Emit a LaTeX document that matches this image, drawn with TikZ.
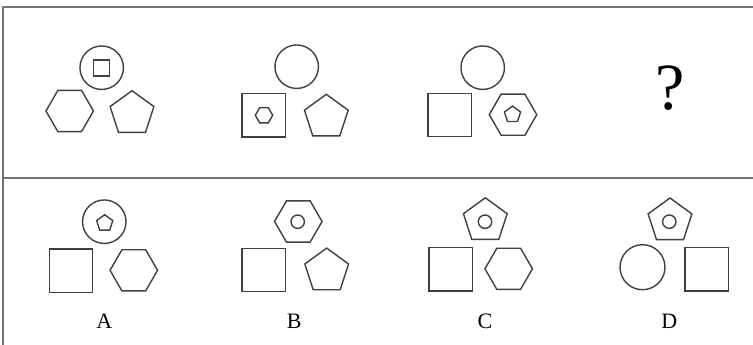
\documentclass[tikz,border=0pt]{standalone}
\usepackage{fontspec}
\setmainfont{Liberation Serif}
\usetikzlibrary{shapes.geometric}
\begin{document}
\begin{tikzpicture}[x=1pt,y=-1pt,
  shp/.style={draw=black!75, line width=1.4pt, inner sep=0pt, fill=none},
  circ/.style={shp, circle, minimum size=43.5pt},
  sq/.style={shp, rectangle, minimum size=43.3pt},
  hexa/.style={shp, regular polygon, regular polygon sides=6, minimum size=47.5pt},
  penta/.style={shp, regular polygon, regular polygon sides=5, minimum size=46pt},
  tinysq/.style={shp, rectangle, minimum size=16pt},
  tinyhexa/.style={shp, regular polygon, regular polygon sides=6, minimum size=17.4pt},
  tinypenta/.style={shp, regular polygon, regular polygon sides=5, minimum size=17pt},
  tinycirc/.style={shp, circle, minimum size=13.4pt},
  lbl/.style={anchor=base, inner sep=0pt, font=\fontsize{22}{24}\selectfont},
  frame/.style={draw=black!55, line width=1.5pt}]
\useasboundingbox (0,0) rectangle (753,345);
% frame
\draw [frame] (753,7) -- (3,7) -- (3,345);
\draw [frame] (3,178) -- (753,178);
% question row
\node [circ] (q1c) at (101.7,67.7) {};
\node [tinysq] (q1s) at (101.7,68) {};
\node [hexa] (q1h) at (69.7,111) {};
\node [penta] (q1p) at (132,113.7) {};
\node [circ] (q2c) at (296.7,66.7) {};
\node [sq] (q2s) at (263.7,115.3) {};
\node [tinyhexa] (q2h) at (264,115.3) {};
\node [penta] (q2p) at (326.3,117.3) {};
\node [circ] (q3c) at (482.7,67.7) {};
\node [sq] (q3s) at (449.7,115) {};
\node [hexa] (q3h) at (513,114.7) {};
\node [tinypenta] (q3p) at (512.5,114.6) {};
\node [anchor=base, inner sep=0pt, font=\fontsize{66}{70}\selectfont] (q4) at (670,110) {?};
% answer row
\node [circ] (ac) at (104.3,221.7) {};
\node [tinypenta] (ap) at (104.7,223.2) {};
\node [sq] (as) at (71,270.7) {};
\node [hexa] (ah) at (133.8,270.3) {};
\node [lbl] (al) at (104.3,328.3) {A};
\node [hexa] (bh) at (298.3,221.5) {};
\node [tinycirc] (bc) at (297.7,221.7) {};
\node [sq] (bs) at (263.7,270) {};
\node [penta] (bp) at (326.7,271.1) {};
\node [lbl] (bl) at (294.3,328.3) {B};
\node [penta] (cp) at (485.3,220.8) {};
\node [tinycirc] (cc) at (485,221.7) {};
\node [sq] (cs) at (450.7,269.3) {};
\node [hexa] (ch) at (508.7,268.8) {};
\node [lbl] (cl) at (485,328.3) {C};
\node [penta] (dp) at (670,221) {};
\node [tinycirc] (dc) at (669.3,221.7) {};
\node [circ, minimum size=45pt] (dk) at (642.5,267.2) {};
\node [sq] (ds) at (706.7,269.3) {};
\node [lbl] (dl) at (669.3,328.3) {D};
\end{tikzpicture}
\end{document}
